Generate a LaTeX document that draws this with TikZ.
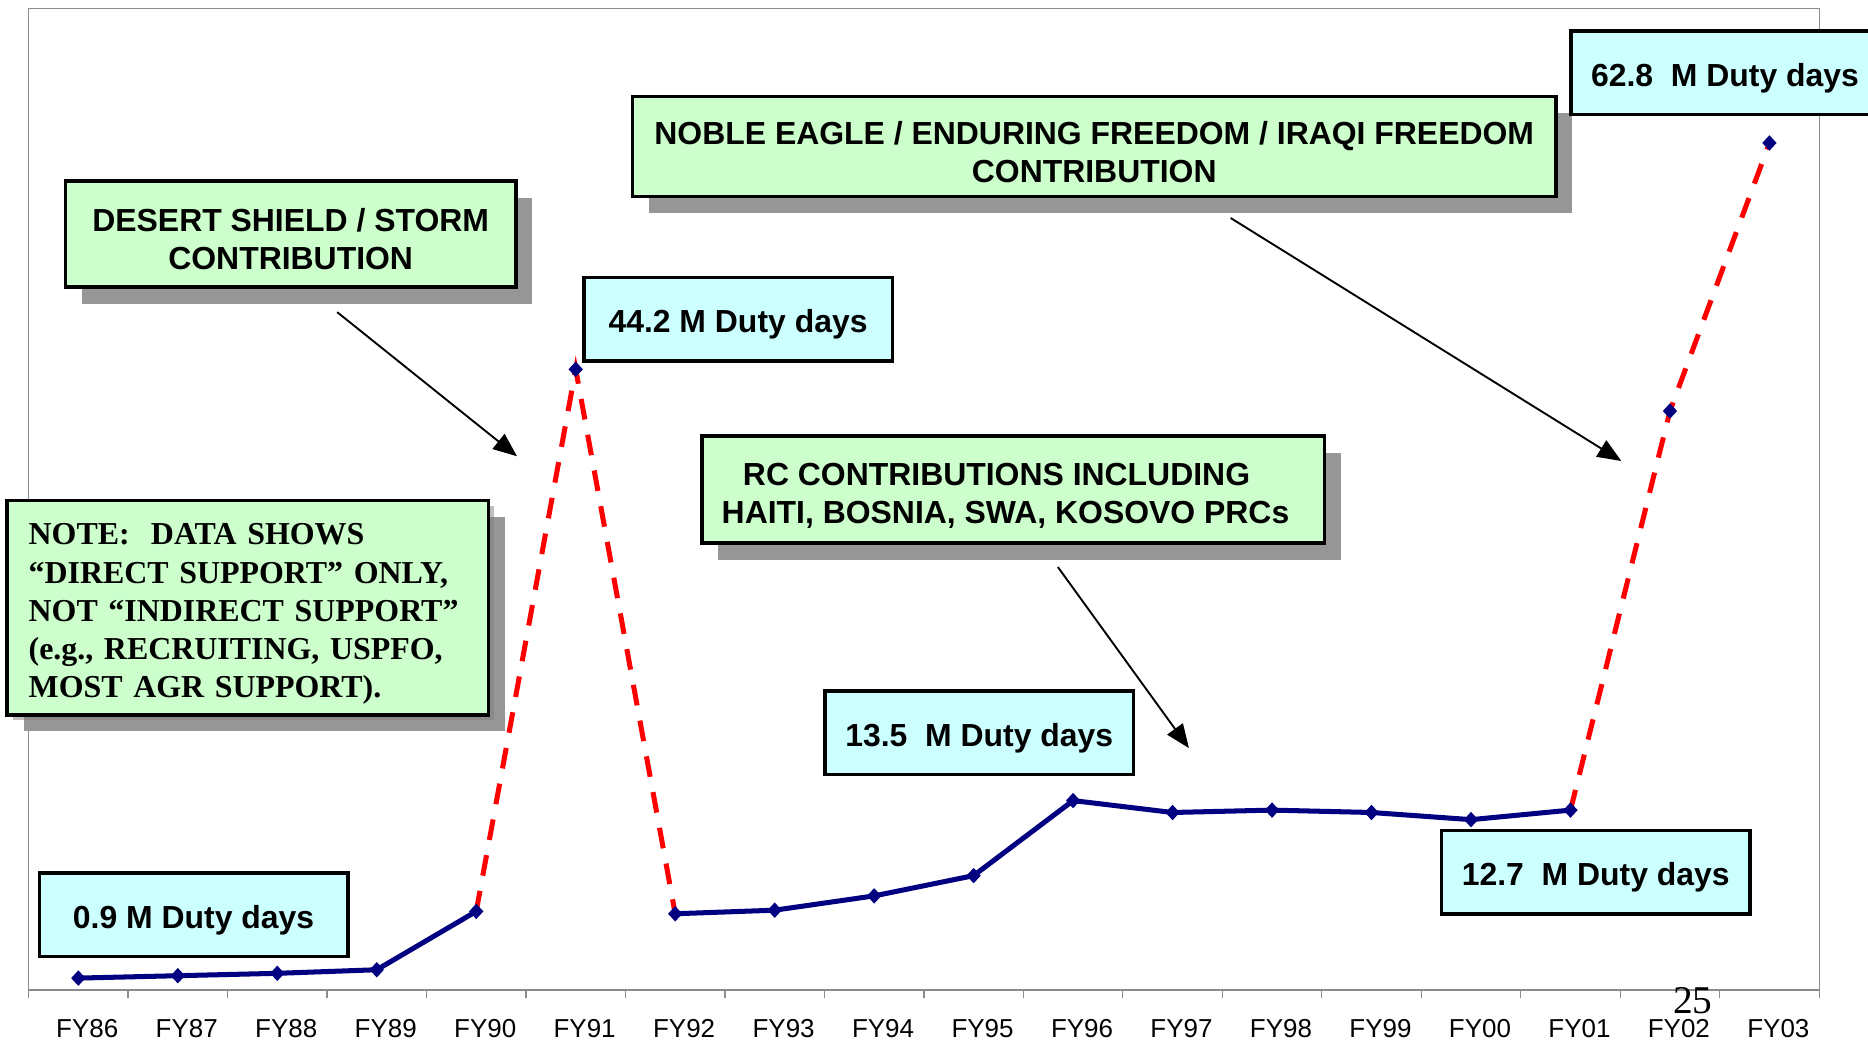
\documentclass[tikz,border=0pt]{standalone}
\usepackage{fontspec}
\setmainfont{Liberation Sans}
\newfontfamily\notefont{Liberation Serif}
\usetikzlibrary{arrows.meta, shadows}

\definecolor{boxgreen}{HTML}{CCFFCC}
\definecolor{boxcyan}{HTML}{CCFFFF}
\definecolor{shadowgray}{HTML}{969696}
\definecolor{notegray}{HTML}{808080}
\definecolor{navyline}{HTML}{000080}
\definecolor{framegray}{HTML}{8C8C8C}

\newcommand{\boxstrut}{\rule{0pt}{0.57cm}}

\begin{document}
\begin{tikzpicture}[x=0.02cm, y=-0.02cm,
	boxtext/.style={font=\bfseries\fontsize{15.25}{18.2}\selectfont},
	greenbox/.style={boxtext, draw, line width=1.7pt, fill=boxgreen, align=center,
		drop shadow={shadow xshift=0.28cm, shadow yshift=-0.28cm, fill=shadowgray, opacity=1}},
	daysbox/.style={boxtext, draw, line width=1.7pt, fill=boxcyan,
		minimum width=5.18cm, minimum height=1.4cm, execute at begin node=\boxstrut},
	ticklabel/.style={font=\fontsize{12.4}{14}\selectfont},
	dataline/.style={navyline, line width=2.4pt, line join=round},
	surge/.style={red, line width=2.4pt, dash pattern=on 0.35cm off 0.26cm}]

	\useasboundingbox (0,0) rectangle (1568,876);

	% plot frame and category axis
	\draw[framegray, line width=0.6pt] (24,7) rectangle (1527,831);
	\foreach \i in {0,...,18}
	{
		\draw[framegray, line width=0.6pt] ({24+83.5*\i},831) -- ++(0,7);
	}
	\foreach \lab [count=\i] in {FY86,FY87,FY88,FY89,FY90,FY91,FY92,FY93,FY94,FY95,FY96,FY97,FY98,FY99,FY00,FY01,FY02,FY03}
	{
		\node[ticklabel] (t\i) at ({31.5+83.5*(\i-0.5)},863) {\lab};
	}

	% duty days per year
	\foreach \yr/\py [count=\i] in {86/821,87/819,88/817,89/814,90/765,91/310,92/767,93/764,94/752,95/735,96/672,97/682,98/680,99/682,00/688,01/680,02/345,03/120}
	{
		\coordinate (p\yr) at ({24+83.5*(\i-0.5)},\py);
	}

	\draw[surge] (p90) -- (p91) -- (p92);
	\draw[surge] (p01) -- (p02) -- (p03);
	\draw[dataline] (p86) -- (p87) -- (p88) -- (p89) -- (p90);
	\draw[dataline] (p92) -- (p93) -- (p94) -- (p95) -- (p96) -- (p97) -- (p98) -- (p99) -- (p00) -- (p01);

	\foreach \yr in {86,87,88,89,90,91,92,93,94,95,96,97,98,99,00,01,02,03}
	{
		\fill[navyline] (p\yr) +(-6,0) -- +(0,-6.5) -- +(6,0) -- +(0,6.5) -- cycle;
	}

	\node[font=\notefont\fontsize{18.8}{20}\selectfont] (pagenum) at (1421,840) {25};

	% callouts
	\node[greenbox, minimum width=7.56cm, minimum height=1.78cm] (desert) at (244,196.5)
		{\boxstrut DESERT SHIELD / STORM\\CONTRIBUTION};
	\node[greenbox, minimum width=15.5cm, minimum height=1.68cm] (noble) at (918.5,123)
		{\boxstrut NOBLE EAGLE / ENDURING FREEDOM / IRAQI FREEDOM\\CONTRIBUTION};
	\node[greenbox, minimum width=10.46cm, minimum height=1.8cm] (rc) at (850.5,411)
		{\boxstrut RC CONTRIBUTIONS INCLUDING\hspace*{0.56cm}\\HAITI, BOSNIA, SWA, KOSOVO PRCs\hspace*{0.26cm}};
	\node[greenbox, drop shadow={fill=notegray}, minimum height=3.6cm, text width=7.36cm,
		inner xsep=0.36cm, align=left, font=\notefont\bfseries\fontsize{15.25}{18.2}\selectfont] (note) at (208,510)
		{\boxstrut NOTE:\ \ DATA SHOWS\\“DIRECT SUPPORT” ONLY,\\NOT “INDIRECT SUPPORT”\\(e.g., RECRUITING, USPFO,\\MOST AGR SUPPORT).};

	\node[daysbox] (d09) at (162.5,768) {0.9 M Duty days};
	\node[daysbox] (d442) at (619.5,268) {44.2 M Duty days};
	\node[daysbox] (d135) at (822,615) {13.5~ M Duty days};
	\node[daysbox] (d127) at (1339.5,732) {12.7~ M Duty days};
	\node[daysbox] (d628) at (1448,61) {62.8~ M Duty days};

	\coordinate (desertfrom) at (283,262);
	\coordinate (desertto) at (434,383);
	\coordinate (noblefrom) at (1033,183);
	\coordinate (nobleto) at (1361,387);
	\coordinate (rcfrom) at (888,476);
	\coordinate (rcto) at (998,628);

	\begin{scope}[-{Triangle[length=0.4cm, width=0.32cm]}, line width=0.9pt]
		\draw (desertfrom) -- (desertto);
		\draw (noblefrom) -- (nobleto);
		\draw (rcfrom) -- (rcto);
	\end{scope}
\end{tikzpicture}
\end{document}
